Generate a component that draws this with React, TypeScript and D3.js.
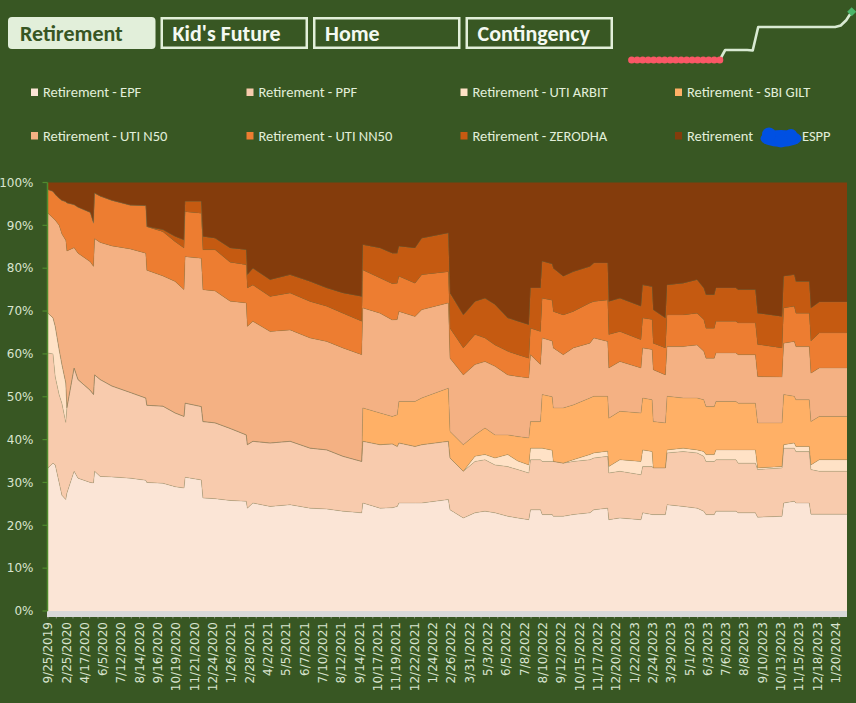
import * as d3 from "d3";

// sample points along the category axis (one category per valuation date)
const SAMPLE_IDX = [
  0, 9, 13, 20, 25, 32, 34, 47, 54, 76,
  82, 84, 94, 115, 148, 176, 178, 207, 229, 245,
  247, 276, 279, 301, 328, 357, 359, 369, 400, 436,
  472, 502, 531, 565, 567, 598, 620, 629, 632, 661,
  673, 721, 724, 748, 769, 787, 805, 828, 846, 866,
  869, 887, 890, 908, 910, 928, 946, 976, 983, 1008,
  1010, 1030, 1068, 1071, 1088, 1090, 1112, 1115, 1144, 1169,
  1181, 1185, 1200, 1203, 1239, 1243, 1274, 1278, 1322, 1325,
  1344, 1347, 1371, 1374, 1389, 1439,
];

const EPF = [
  33.4, 34.5, 34.1, 30.0, 27.0, 26.0, 27.5, 32.6, 31.0, 30.0,
  29.9, 32.6, 31.4, 31.3, 31.0, 30.5, 30.0, 29.8, 29.0, 28.7,
  31.2, 30.6, 26.4, 26.2, 25.8, 25.6, 24.0, 25.2, 24.4, 24.8,
  24.0, 23.8, 23.3, 22.9, 25.2, 24.0, 24.1, 24.4, 25.2, 25.2,
  25.2, 26.0, 23.6, 21.7, 22.9, 23.3, 22.9, 22.1, 21.7, 21.3,
  23.6, 23.6, 22.5, 22.5, 22.1, 22.1, 22.5, 22.9, 23.6, 24.0,
  21.3, 21.7, 21.3, 22.9, 22.5, 22.5, 22.5, 24.8, 24.4, 24.0,
  23.3, 22.5, 22.5, 23.3, 23.3, 22.9, 22.9, 21.9, 22.1, 25.2,
  25.6, 25.2, 25.2, 22.6, 22.6, 22.6,
];
const PPF = [
  26.8, 25.5, 20.6, 20.5, 21.5, 18.0, 19.9, 24.1, 23.0, 21.5,
  20.6, 22.5, 22.6, 21.2, 20.0, 19.2, 18.0, 18.0, 17.2, 16.7,
  17.3, 17.1, 17.8, 17.7, 16.8, 15.5, 14.8, 14.4, 14.8, 14.8,
  14.0, 13.8, 12.8, 12.0, 14.4, 14.8, 14.9, 14.0, 14.0, 13.2,
  13.6, 13.6, 12.1, 10.9, 12.0, 12.0, 11.2, 11.6, 11.3, 10.9,
  11.7, 11.7, 12.4, 12.4, 12.8, 12.4, 12.4, 12.4, 12.1, 12.1,
  10.9, 10.9, 10.5, 10.8, 11.2, 10.9, 10.9, 12.1, 12.8, 12.9,
  12.8, 12.4, 12.4, 12.0, 12.0, 11.6, 11.6, 11.1, 11.3, 12.8,
  12.4, 12.0, 12.0, 10.4, 10.0, 10.0,
];
const UTI_ARBIT = [
  9.3, 8.4, 11.7, 10.5, 9.0, 9.2, 0, 0, 0, 0,
  0, 0, 0, 0, 0, 0, 0, 0, 0, 0,
  0, 0, 0, 0, 0, 0, 0, 0, 0, 0,
  0, 0, 0, 0, 0, 0, 0, 0, 0, 0,
  0, 0, 0, 0, 1.2, 1.2, 1.6, 2.8, 2.0, 1.9,
  2.7, 2.7, 3.1, 2.6, 0, 0, 0.4, 1.2, 1.2, 1.2,
  1.5, 2.7, 3.1, 3.9, 3.5, 0, 0, 0.7, 0.8, 0.7,
  1.1, 1.6, 1.6, 2.3, 2.3, 3.1, 3.1, 0.4, 0.3, 0.8,
  1.2, 1.2, 1.2, 1.1, 2.7, 2.7,
];
const SBI_GILT = [
  0, 0, 0, 0, 0, 0, 0, 0, 0, 0,
  0, 0, 0, 0, 0, 0, 0, 0, 0, 0,
  0, 0, 0, 0, 0, 0, 0, 0, 0, 0,
  0, 0, 0, 0, 7.8, 7.4, 6.4, 7.4, 9.7, 10.5,
  10.9, 12.4, 6.2, 6.2, 5.0, 6.2, 5.4, 4.6, 5.7, 6.3,
  6.2, 6.2, 12.5, 12.5, 12.5, 12.9, 12.8, 13.2, 13.2, 12.8,
  11.3, 11.3, 11.3, 12.1, 12.1, 10.8, 10.5, 12.5, 11.7, 12.1,
  12.1, 11.2, 11.2, 11.3, 11.3, 10.9, 10.9, 10.5, 10.2, 11.7,
  10.9, 10.9, 10.9, 10.1, 10.1, 10.1,
];
const UTI_N50 = [
  23.3, 23.3, 24.8, 29.0, 30.5, 33.3, 36.6, 28.1, 29.5, 30.0,
  29.9, 31.8, 32.0, 32.7, 33.5, 33.8, 31.5, 30.4, 30.7, 29.6,
  34.2, 34.6, 30.8, 30.8, 29.7, 30.8, 27.6, 28.0, 26.0, 26.0,
  25.7, 25.3, 25.3, 24.9, 23.3, 23.3, 22.5, 22.2, 21.0, 19.8,
  20.6, 19.9, 17.1, 16.3, 16.4, 15.5, 16.0, 14.0, 14.0, 14.0,
  15.6, 13.3, 13.2, 13.0, 14.0, 12.4, 13.3, 12.8, 13.6, 12.8,
  11.7, 11.6, 10.5, 11.7, 11.7, 12.1, 11.2, 11.6, 12.0, 12.4,
  11.3, 11.3, 11.3, 11.3, 11.3, 11.3, 11.3, 10.8, 10.7, 12.0,
  12.8, 12.4, 12.4, 11.3, 11.3, 11.3,
];
const UTI_NN50 = [
  5.5, 6.2, 6.0, 6.3, 7.8, 9.0, 11.2, 10.0, 10.7, 11.5,
  10.1, 10.6, 10.8, 10.6, 10.2, 11.1, 10.2, 10.3, 9.3, 9.7,
  10.5, 10.5, 9.3, 9.6, 9.1, 8.9, 9.0, 8.5, 8.2, 8.6,
  8.5, 8.2, 8.1, 7.8, 8.9, 8.2, 8.5, 8.5, 8.2, 7.8,
  8.2, 7.3, 7.0, 6.3, 7.0, 5.5, 5.0, 5.5, 5.1, 4.6,
  6.2, 7.7, 9.3, 9.5, 8.5, 9.3, 8.5, 9.4, 8.5, 9.7,
  7.8, 7.0, 6.6, 7.0, 7.0, 6.2, 6.3, 7.4, 7.4, 7.4,
  7.4, 7.0, 7.0, 7.4, 7.4, 7.4, 7.4, 7.5, 6.8, 8.2,
  8.2, 7.8, 7.8, 7.5, 8.2, 8.2,
];
const ZERODHA = [
  0, 0, 0, 0, 0, 0, 0, 0, 0, 0,
  0, 0, 0, 0, 0, 0, 0, 0.5, 1.2, 1.9,
  2.4, 2.8, 3.1, 2.7, 3.3, 3.5, 3.1, 3.9, 3.9, 4.3,
  4.7, 4.3, 4.7, 5.8, 5.9, 7.0, 7.1, 7.0, 7.0, 8.2,
  8.5, 9.0, 8.2, 7.7, 7.7, 9.3, 9.4, 7.8, 7.8, 7.8,
  9.4, 10.2, 8.6, 8.5, 10.1, 9.0, 9.3, 8.5, 9.0, 8.6,
  7.7, 7.8, 7.8, 7.7, 7.7, 7.8, 7.0, 7.0, 7.4, 7.8,
  7.4, 7.8, 7.8, 7.8, 7.8, 7.8, 7.8, 7.3, 7.3, 7.4,
  7.4, 7.4, 7.4, 7.7, 7.2, 7.2,
];
const ESPP = [
  1.7, 2.1, 2.8, 3.7, 4.2, 4.5, 4.8, 5.2, 5.8, 7.0,
  9.5, 2.5, 3.2, 4.2, 5.3, 5.4, 10.3, 11.0, 12.6, 13.4,
  4.4, 4.4, 12.6, 13.0, 15.3, 15.7, 21.5, 20.0, 22.7, 21.5,
  23.1, 24.6, 25.8, 26.6, 14.5, 15.3, 16.5, 16.5, 14.9, 15.3,
  13.0, 11.8, 25.8, 30.9, 27.8, 27.0, 28.5, 31.6, 32.4, 33.2,
  24.6, 24.6, 18.4, 19.0, 20.0, 21.9, 20.8, 19.6, 18.8, 18.8,
  27.8, 27.0, 28.9, 23.9, 24.3, 29.7, 31.6, 23.9, 23.5, 22.7,
  24.6, 26.2, 26.2, 24.6, 24.6, 25.0, 25.0, 30.5, 31.3, 21.9,
  21.5, 23.1, 23.1, 29.3, 27.9, 27.9,
];

const SERIES_NAMES = [
  "Retirement - EPF",
  "Retirement - PPF",
  "Retirement - UTI ARBIT",
  "Retirement - SBI GILT",
  "Retirement - UTI N50",
  "Retirement - UTI NN50",
  "Retirement - ZERODHA",
  "Retirement - ESPP",
];
const SERIES_VALUES = [EPF, PPF, UTI_ARBIT, SBI_GILT, UTI_N50, UTI_NN50, ZERODHA, ESPP];
const COLORS = ["#FBE5D6", "#F8CBAD", "#FFE2C6", "#FFB066", "#F4B183", "#ED7D31", "#C55A11", "#843C0C"];

const CATEGORY_COUNT = 1440;
const TICK_STEP = 33;
const TICK_LABELS = [
  "9/25/2019", "2/25/2020", "4/17/2020", "6/5/2020", "7/12/2020", "8/14/2020", "9/16/2020",
  "10/19/2020", "11/21/2020", "12/24/2020", "1/26/2021", "2/28/2021", "4/2/2021", "5/5/2021",
  "6/7/2021", "7/10/2021", "8/12/2021", "9/14/2021", "10/17/2021", "11/19/2021", "12/22/2021",
  "1/24/2022", "2/26/2022", "3/31/2022", "5/3/2022", "6/5/2022", "7/8/2022", "8/10/2022",
  "9/12/2022", "10/15/2022", "11/17/2022", "12/20/2022", "1/22/2023", "2/24/2023", "3/29/2023",
  "5/1/2023", "6/3/2023", "7/6/2023", "8/8/2023", "9/10/2023", "10/13/2023", "11/15/2023",
  "12/18/2023", "1/20/2024",
];

const BUTTONS = ["Retirement", "Kid's Future", "Home", "Contingency"];

// sparkline in the header
const SPARK = [
  0, 0, 0, 0, 0, 0, 0, 0, 0, 0, 0, 0, 0, 0, 0, 0, 0,
  10, 10, 10, 10, 10, 9.5,
  33, 33, 33, 33, 33, 33, 33, 33, 33, 33, 33, 33, 33, 33, 33,
  34.5, 39.8, 48.3,
];

const BG = "#385723";
const LIGHT = "#E2EFDA";
const AXIS_TEXT = "#D8E4CF";
const UI_FONT = "Carlito, Lato, 'Open Sans', sans-serif";
const AXIS_FONT = "'DejaVu Sans', Verdana, sans-serif";

export default function App() {
  const W = 856;
  const H = 703;
  const plot = { left: 48, right: 847, top: 182.5, bottom: 611 };

  const x = d3.scaleLinear().domain([0, CATEGORY_COUNT - 1]).range([plot.left, plot.right]);
  const y = d3.scaleLinear().domain([0, 1]).range([plot.bottom, plot.top]);

  const keys = SERIES_NAMES.map((_, i) => "s" + i);
  const rows = SAMPLE_IDX.map((idx, r) => {
    const row: any = { idx };
    SERIES_VALUES.forEach((vals, k) => (row["s" + k] = vals[r]));
    return row;
  });
  const layers = d3.stack<any>().keys(keys).offset(d3.stackOffsetExpand)(rows);

  const area = d3
    .area<any>()
    .x((d) => x(d.data.idx))
    .y0((d) => y(d[0]))
    .y1((d) => y(d[1]));
  const topLine = d3
    .line<any>()
    .x((d) => x(d.data.idx))
    .y((d) => y(d[1]));

  const yTicks = d3.range(0, 1.0001, 0.1);
  const fmt = d3.format(".0%");

  const sx = d3.scaleLinear().domain([0, SPARK.length - 1]).range([631.7, 851.7]);
  const sy = d3.scaleLinear().domain([0, d3.max(SPARK) as number]).range([60, 11.7]);
  const sparkLine = d3
    .line<number>()
    .x((_, i) => sx(i))
    .y((d) => sy(d));
  const sMin = d3.min(SPARK) as number;
  const sMax = d3.max(SPARK) as number;

  const bx = d3.scaleLinear().domain([0, 1]).range([8, 160.5]);

  const legendCols = [31, 246.5, 460.5, 675];
  const legendRows = [88.5, 132];

  return (
    <svg
      width={W}
      height={H}
      style={{ position: "absolute", left: 0, top: 0 }}
      xmlns="http://www.w3.org/2000/svg"
    >
      <rect width={W} height={H} fill={BG} />

      {/* tab buttons */}
      {BUTTONS.map((b, i) => {
        const x0 = bx(i);
        const active = i === 0;
        return (
          <g key={b}>
            {active ? (
              <rect x={x0} y={17} width={147.5} height={32} rx={4} fill={LIGHT} />
            ) : (
              <rect
                x={x0 + 1.25}
                y={18.25}
                width={145}
                height={29.5}
                fill="none"
                stroke={LIGHT}
                strokeWidth={2.5}
              />
            )}
            <text
              x={x0 + 12}
              y={41}
              fontFamily={UI_FONT}
              fontWeight={700}
              fontSize={22}
              fill={active ? "#375623" : "#F4F9F1"}
            >
              {b}
            </text>
          </g>
        );
      })}

      {/* sparkline */}
      <path
        d={sparkLine(SPARK) || ""}
        fill="none"
        stroke="#D9EAD3"
        strokeWidth={2.6}
        strokeLinejoin="round"
      />
      {SPARK.map((v, i) =>
        v === sMin ? <circle key={"lo" + i} cx={sx(i)} cy={sy(v)} r={3.6} fill="#FA5766" /> : null
      )}
      {SPARK.map((v, i) =>
        v === sMax ? (
          <rect
            key={"hi" + i}
            x={sx(i) - 3.2}
            y={sy(v) - 3.2}
            width={6.4}
            height={6.4}
            fill="#4CB56A"
            transform={`rotate(45 ${sx(i)} ${sy(v)})`}
          />
        ) : null
      )}

      {/* legend */}
      {SERIES_NAMES.map((name, i) => {
        const lx = legendCols[i % 4];
        const ly = legendRows[Math.floor(i / 4)];
        const isEspp = i === 7;
        return (
          <g key={name}>
            <rect x={lx} y={ly} width={7} height={7.5} fill={COLORS[i]} />
            {isEspp ? (
              <g fontFamily={UI_FONT} fontSize={14.5} fill={LIGHT}>
                <text x={lx + 12} y={ly + 8.5}>Retirement</text>
                <g fill="#0050E2">
                  <ellipse cx={781} cy={138.5} rx={20.5} ry={8.5} />
                  <circle cx={769} cy={134.5} r={7} />
                  <circle cx={791} cy={135.5} r={6.5} />
                  <circle cx={781} cy={141} r={6.5} />
                </g>
                <text x={802} y={ly + 8.5}>ESPP</text>
              </g>
            ) : (
              <text x={lx + 12} y={ly + 8.5} fontFamily={UI_FONT} fontSize={14.5} fill={LIGHT}>
                {name}
              </text>
            )}
          </g>
        );
      })}

      {/* stacked areas */}
      <g>
        {layers.map((layer, i) => (
          <path key={"a" + i} d={area(layer) || ""} fill={COLORS[i]} />
        ))}
        {layers.slice(0, -1).map((layer, i) => (
          <path
            key={"l" + i}
            d={topLine(layer) || ""}
            fill="none"
            stroke="#8C7A5A"
            strokeOpacity={0.35}
            strokeWidth={0.7}
          />
        ))}
      </g>

      {/* category axis band */}
      <rect x={plot.left - 1} y={plot.bottom} width={plot.right - plot.left + 1} height={6} fill="#D9D9D9" />
      {d3.range(0, CATEGORY_COUNT, 15).map((c) => (
        <line
          key={"m" + c}
          x1={x(c)}
          x2={x(c)}
          y1={plot.bottom + 6}
          y2={plot.bottom + 7.5}
          stroke="#9AA593"
          strokeWidth={0.8}
        />
      ))}

      {/* value axis */}
      <line x1={47.5} x2={47.5} y1={plot.top} y2={plot.bottom} stroke="#4F8A2E" strokeWidth={1.5} />
      {yTicks.map((t) => (
        <g key={"y" + t}>
          <line x1={42.5} x2={47.5} y1={y(t)} y2={y(t)} stroke="#4F8A2E" strokeWidth={1.2} />
          <text
            x={33.5}
            y={y(t)}
            dy="0.35em"
            textAnchor="end"
            fontFamily={AXIS_FONT}
            fontSize={12}
            fill={AXIS_TEXT}
          >
            {fmt(t)}
          </text>
        </g>
      ))}

      {/* category labels */}
      {TICK_LABELS.map((lab, k) => (
        <text
          key={lab}
          transform={`translate(${x(k * TICK_STEP)},622) rotate(-90)`}
          dy="0.35em"
          textAnchor="end"
          fontFamily={AXIS_FONT}
          fontSize={12}
          fill={AXIS_TEXT}
        >
          {lab}
        </text>
      ))}
    </svg>
  );
}
